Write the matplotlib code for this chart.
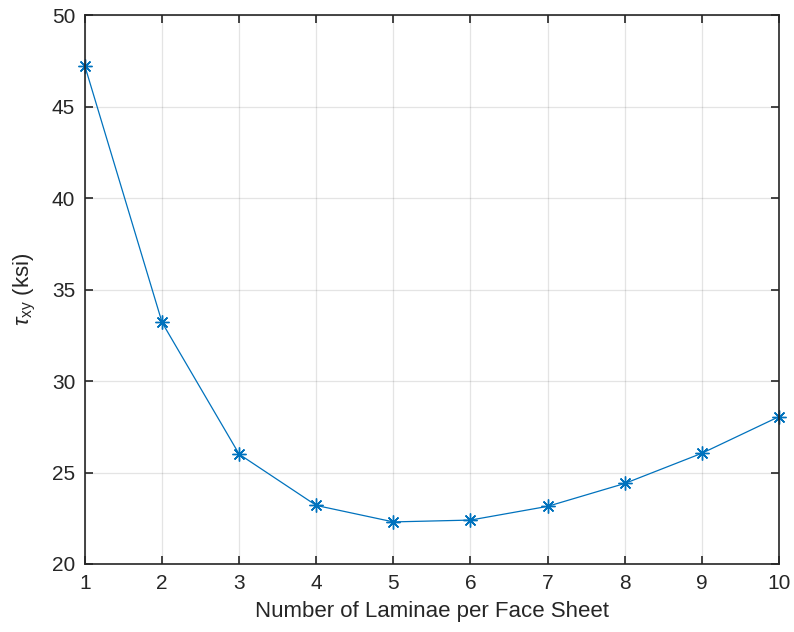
import matplotlib
matplotlib.use("Agg")
import matplotlib.pyplot as plt

# data
laminae = [1, 2, 3, 4, 5, 6, 7, 8, 9, 10]
tau_xy = [47.2, 33.2, 26.0, 23.2, 22.3, 22.4, 23.15, 24.4, 26.05, 28.05]

plt.rcParams["font.family"] = ["Liberation Sans", "DejaVu Sans"]
plt.rcParams["mathtext.fontset"] = "custom"
plt.rcParams["mathtext.rm"] = "Liberation Sans"
plt.rcParams["mathtext.it"] = "Liberation Sans:italic"

fig = plt.figure(figsize=(7.94, 6.32), dpi=100)
ax = fig.add_axes([0.107, 0.1076, 0.874, 0.8686])

# MATLAB style asterisk marker (plus + cross)
ax.plot(laminae, tau_xy, color="#0072BD", linewidth=0.9,
        marker=(8, 2, 0), markersize=10, markeredgewidth=1.0, clip_on=False)

ax.set_xlim(1, 10)
ax.set_ylim(20, 50)
ax.set_xticks(range(1, 11))
ax.set_yticks(range(20, 51, 5))

ax.grid(True, color="#262626", alpha=0.12, linewidth=0.9)
ax.set_axisbelow(True)
for s in ax.spines.values():
    s.set_color("#262626")
    s.set_linewidth(1.2)
ax.tick_params(direction="in", length=6, width=1.2, color="#262626",
               labelsize=15, labelcolor="#262626", top=True, right=True, pad=7)

ax.set_xlabel("Number of Laminae per Face Sheet", fontsize=16, color="#262626", labelpad=6)
ax.set_ylabel(r"$\tau_{\rm xy}$ (ksi)", fontsize=16, color="#262626", labelpad=10)

fig.savefig("out.png", dpi=100)
